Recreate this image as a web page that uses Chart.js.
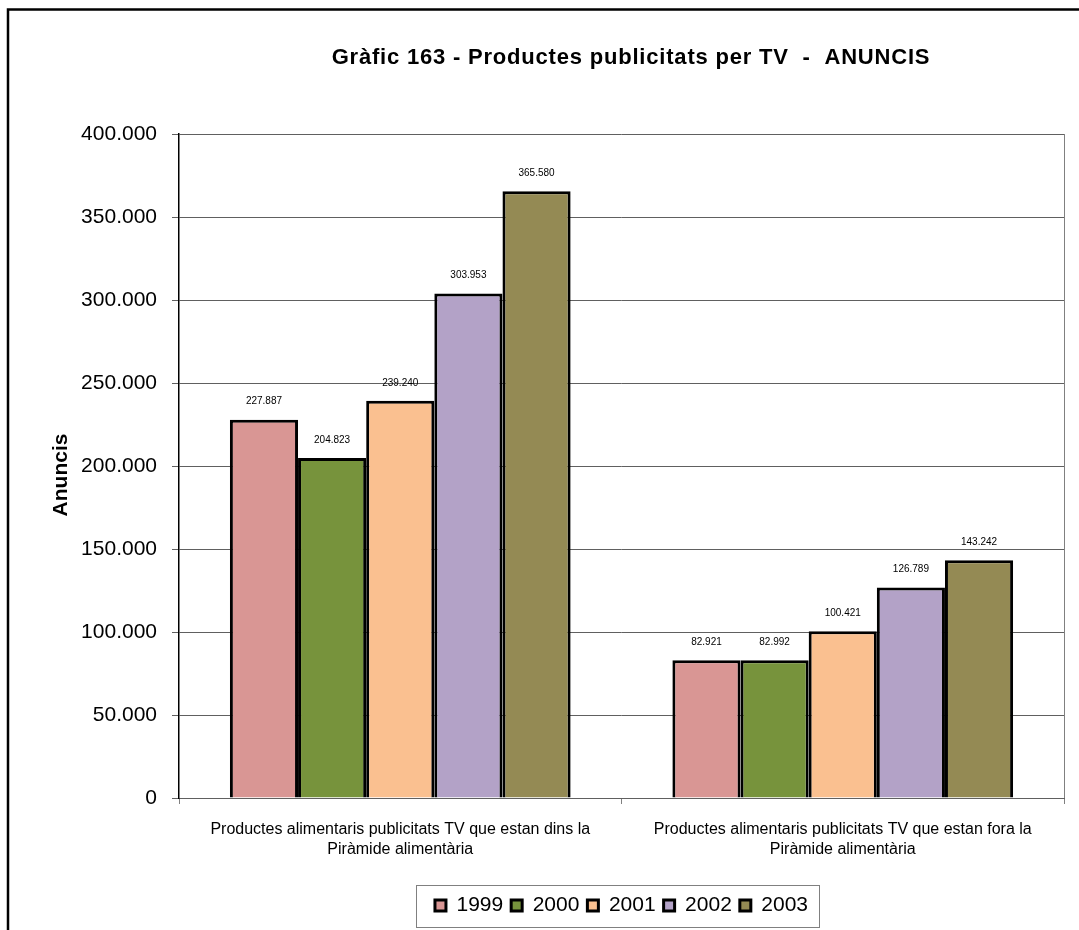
<!DOCTYPE html>
<html>
<head>
<meta charset="utf-8">
<script src="https://cdn.jsdelivr.net/npm/chart.js@4/dist/chart.umd.min.js"></script>
<style>
  body { margin: 0; background: #fff; }
  #wrap { position: absolute; left: 0; top: 0; width: 1079px; height: 930px; }
</style>
</head>
<body>
<div id="wrap"><canvas id="my-chart"></canvas></div>
<script>
'use strict';

// data
let categories = [
  ['Productes alimentaris publicitats TV que estan dins la', 'Piràmide alimentària'],
  ['Productes alimentaris publicitats TV que estan fora la', 'Piràmide alimentària']
];
let years = ['1999', '2000', '2001', '2002', '2003'];
let values1999 = [227887, 82921];
let values2000 = [204823, 82992];
let values2001 = [239240, 100421];
let values2002 = [303953, 126789];
let values2003 = [365580, 143242];
let yTicks = [0, 50000, 100000, 150000, 200000, 250000, 300000, 350000, 400000];

let colors = ['#D99694', '#77933C', '#FAC090', '#B3A2C7', '#948A54'];
let allValues = [values1999, values2000, values2001, values2002, values2003];

const FONT = "'Liberation Sans', Arial, sans-serif";

// 227887 -> 227.887
function fmt(n) {
  return String(n).replace(/\B(?=(\d{3})+(?!\d))/g, '.');
}

let datasets = [];
for (let i = 0; i < years.length; i++) {
  datasets.push({
    label: years[i],
    data: allValues[i],
    backgroundColor: colors[i],
    borderColor: '#000',
    borderWidth: 3,
    borderSkipped: 'bottom'
  });
}

// frame, title, axis title, plot border, value labels, legend box
let extras = {
  id: 'extras',
  beforeDraw(chart) {
    let c = chart.ctx;
    c.save();
    c.fillStyle = '#fff';
    c.fillRect(0, 0, chart.width, chart.height);
    c.strokeStyle = '#000';
    c.lineWidth = 2.5;
    c.beginPath();
    c.moveTo(8, chart.height + 5);
    c.lineTo(8, 9.5);
    c.lineTo(chart.width + 5, 9.5);
    c.stroke();
    c.restore();
  },
  afterDatasetsDraw(chart) {
    let c = chart.ctx;
    let a = chart.chartArea;
    c.save();
    // right border of plot area
    c.strokeStyle = '#808080';
    c.lineWidth = 1;
    c.beginPath();
    c.moveTo(a.right + 0.5, a.top);
    c.lineTo(a.right + 0.5, a.bottom);
    c.stroke();

    // title
    c.fillStyle = '#000';
    c.font = 'bold 22px ' + FONT;
    c.textAlign = 'center';
    c.textBaseline = 'middle';
    c.letterSpacing = '0.8px';
    c.fillText('Gràfic 163 - Productes publicitats per TV  -  ANUNCIS', 631, 58);
    c.letterSpacing = '0px';

    // y axis title
    c.save();
    c.translate(61, 475);
    c.rotate(-Math.PI / 2);
    c.font = 'bold 21px ' + FONT;
    c.fillText('Anuncis', 0, 0);
    c.restore();

    // value labels
    c.font = '10px ' + FONT;
    chart.data.datasets.forEach((ds, i) => {
      let meta = chart.getDatasetMeta(i);
      meta.data.forEach((bar, j) => {
        c.fillText(fmt(ds.data[j]), bar.x, bar.y - 18);
      });
    });

    // legend frame
    let boxes = chart.legend.legendHitBoxes;
    if (boxes && boxes.length) {
      let first = boxes[0];
      let last = boxes[boxes.length - 1];
      let left = first.left - 19;
      let right = last.left + last.width + 11;
      let midY = first.top + first.height / 2;
      c.strokeStyle = '#808080';
      c.lineWidth = 1;
      c.strokeRect(Math.round(left) + 0.5, Math.round(midY - 21) + 0.5, Math.round(right - left), 42);
    }
    c.restore();
  }
};

const ctx = document.getElementById('my-chart').getContext('2d');

new Chart(ctx, {
  type: 'bar',
  data: {
    labels: categories,
    datasets: datasets
  },
  options: {
    responsive: true,
    maintainAspectRatio: false,
    animation: false,
    layout: { padding: { left: 47, right: 15, top: 134, bottom: 4 } },
    datasets: {
      bar: { categoryPercentage: 0.77, barPercentage: 1 }
    },
    plugins: {
      title: { display: false },
      tooltip: { enabled: false },
      legend: {
        position: 'bottom',
        fullSize: false,
        labels: {
          font: { family: FONT, size: 21 },
          color: '#000',
          boxWidth: 11,
          boxHeight: 11,
          padding: 8
        }
      }
    },
    scales: {
      x: {
        grid: {
          display: true,
          drawOnChartArea: false,
          color: '#808080',
          tickLength: 6,
          offset: true
        },
        border: { color: '#606060', width: 1 },
        ticks: {
          font: { family: FONT, size: 16, lineHeight: 1.25 },
          color: '#000',
          padding: 16,
          maxRotation: 0,
          autoSkip: false
        },
        afterFit(scale) { scale.height = 89; }
      },
      y: {
        min: 0,
        max: 400000,
        afterBuildTicks(scale) {
          scale.ticks = yTicks.map(v => ({ value: v }));
        },
        grid: {
          color: '#606060',
          tickLength: 7,
          lineWidth: 1
        },
        border: { color: '#000', width: 1.5 },
        ticks: {
          font: { family: FONT, size: 21 },
          color: '#000',
          padding: 15,
          callback: v => fmt(v)
        },
        title: { display: false },
        afterFit(scale) { scale.width = 132; }
      }
    }
  },
  plugins: [extras]
});
</script>
</body>
</html>
